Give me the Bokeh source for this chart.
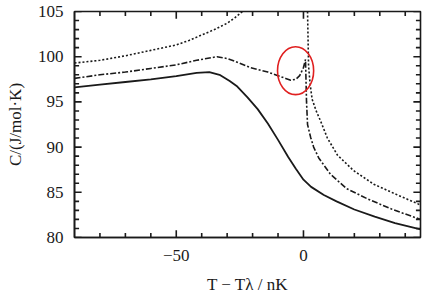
from bokeh.plotting import figure
from bokeh.models import FixedTicker, Range1d
from bokeh.embed import file_html
from bokeh.resources import INLINE

# ---- data ----
solid_T = [-90, -80, -70, -60, -50, -42, -37, -33, -29, -26, -22, -18, -14, -10, -6, -3, 0, 3, 8, 13, 20, 28, 36, 46]
solid_C = [96.6, 96.9, 97.2, 97.5, 97.85, 98.2, 98.3, 98.0, 97.3, 96.7, 95.5, 94.2, 92.6, 90.8, 88.9, 87.6, 86.4, 85.6, 84.7, 84.0, 83.1, 82.3, 81.6, 80.9]

dashdot_T = [-90, -80, -70, -60, -50, -42, -34, -30, -27, -21, -14, -10, -7, -5, -3, -1.5, 0, 0.8, 1.2, 1.6, 2.8, 4, 6, 10.6, 17, 25, 35, 46]
dashdot_C = [97.6, 98.0, 98.3, 98.7, 99.1, 99.6, 100.0, 99.8, 99.5, 98.8, 98.3, 97.9, 97.6, 97.4, 97.5, 97.9, 98.8, 99.7, 95.0, 92.5, 91.1, 90.0, 88.8, 87.0, 85.4, 84.3, 83.1, 82.0]

dotted_left_T = [-90, -80, -70, -60, -50, -45, -40, -35, -30, -27, -24]
dotted_left_C = [99.3, 99.6, 100.1, 100.7, 101.3, 101.8, 102.4, 103.0, 103.7, 104.3, 105.0]

dotted_right_T = [1.6, 1.8, 2.0, 2.6, 3.4, 5, 6.7, 9.4, 13.4, 19.7, 27.6, 37, 46]
dotted_right_C = [105.0, 102.0, 99.0, 97.0, 95.3, 94.0, 92.9, 91.0, 89.1, 87.4, 85.9, 84.7, 83.6]

x_major = [-50, 0]
x_minor = [-80, -70, -60, -40, -30, -20, -10, 10, 20, 30, 40]
y_major = [80, 85, 90, 95, 100, 105]
y_minor = [v for v in range(81, 105) if v % 5 != 0]

circle_T, circle_C = -3.1, 98.45
circle_w, circle_h = 14.2, 5.3

x_lo, x_hi = -90, 46
y_lo, y_hi = 80, 105

ink = "#1a1a1a"
serif = "'Liberation Serif'"

p = figure(width=427, height=296, output_backend="svg", toolbar_location=None,
           x_range=Range1d(x_lo, x_hi), y_range=Range1d(y_lo, y_hi),
           min_border_left=74, min_border_right=7, min_border_top=11, min_border_bottom=54)
p.grid.visible = False
p.outline_line_color = ink
p.outline_line_width = 1.6

# inward ticks on all four sides (major longer than minor)
maj_dy, min_dy = 0.8, 0.5      # tick length on x axes (y units)
maj_dx, min_dx = 2.8, 1.8      # tick length on y axes (x units)
for ticks, dy in ((x_major, maj_dy), (x_minor, min_dy)):
    n = len(ticks)
    p.segment(x0=ticks, y0=[y_lo] * n, x1=ticks, y1=[y_lo + dy] * n, line_color=ink, line_width=1.6)
    p.segment(x0=ticks, y0=[y_hi] * n, x1=ticks, y1=[y_hi - dy] * n, line_color=ink, line_width=1.6)
for ticks, dx in ((y_major, maj_dx), (y_minor, min_dx)):
    n = len(ticks)
    p.segment(x0=[x_lo] * n, y0=ticks, x1=[x_lo + dx] * n, y1=ticks, line_color=ink, line_width=1.6)
    p.segment(x0=[x_hi] * n, y0=ticks, x1=[x_hi - dx] * n, y1=ticks, line_color=ink, line_width=1.6)

p.line(solid_T, solid_C, line_color=ink, line_width=1.8)
p.line(dashdot_T, dashdot_C, line_color=ink, line_width=1.6, line_dash="6 2 2 2")
p.line(dotted_left_T, dotted_left_C, line_color=ink, line_width=1.6, line_dash="2 2")
p.line(dotted_right_T, dotted_right_C, line_color=ink, line_width=1.6, line_dash="2 2")

p.ellipse(x=[circle_T], y=[circle_C], width=[circle_w], height=[circle_h],
          fill_alpha=0, line_color="#e02020", line_width=1.6)

def style(ax):
    ax.axis_line_color = ink
    ax.axis_line_width = 1.6
    ax.major_tick_line_color = None
    ax.minor_tick_line_color = None
    ax.major_label_text_font = serif
    ax.major_label_text_font_size = "17px"
    ax.major_label_text_color = ink
    ax.axis_label_text_font = serif
    ax.axis_label_text_font_size = "17px"
    ax.axis_label_text_font_style = "normal"
    ax.axis_label_text_color = ink

xa = p.xaxis[0]
xa.ticker = FixedTicker(ticks=x_major)
xa.axis_label = "T − Tλ / nK"
xa.major_label_standoff = 6
xa.axis_label_standoff = 11
style(xa)

ya = p.yaxis[0]
ya.ticker = FixedTicker(ticks=y_major)
ya.axis_label = "C/(J/mol·K)"
ya.major_label_standoff = 5
ya.axis_label_standoff = 10
style(ya)

open("out.html", "w").write(file_html(p, INLINE))
